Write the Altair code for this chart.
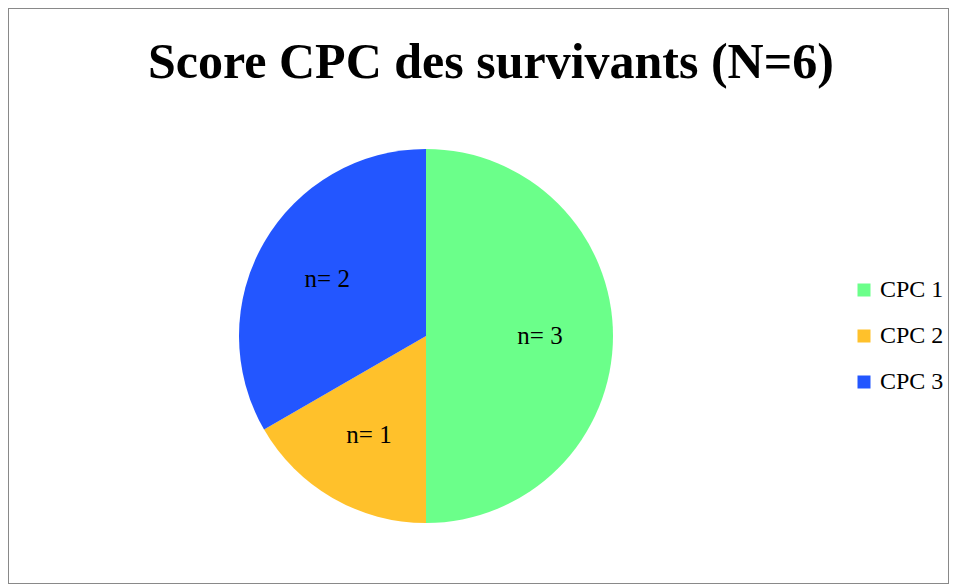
import altair as alt
import pandas as pd

categories = ["CPC 1", "CPC 2", "CPC 3"]
counts = [3, 1, 2]
labels = ["n= 3", "n= 1", "n= 2"]
colors = ["#6bff8a", "#ffc12b", "#2356ff"]

df = pd.DataFrame({"cat": categories, "n": counts, "label": labels})

base = alt.Chart(df).encode(
    theta=alt.Theta("n:Q", stack=True),
    x=alt.value(418),
    y=alt.value(328),
)

color = alt.Color(
    "cat:N",
    scale=alt.Scale(domain=categories, range=colors),
    sort=categories,
    legend=alt.Legend(
        title=None,
        orient="none",
        legendX=844,
        legendY=270,
        padding=0,
        symbolType="square",
        symbolSize=169,
        symbolStrokeWidth=0,
        labelFont="Liberation Serif",
        labelFontSize=24,
        labelColor="#000000",
        rowPadding=22,
        labelOffset=4,
    ),
)

arcs = base.mark_arc(outerRadius=187, stroke=None).encode(
    color=color,
    order=alt.Order("order:Q"),
).transform_calculate(order="indexof(['CPC 1','CPC 2','CPC 3'], datum.cat)")

text = base.mark_text(
    radius=114, font="Liberation Serif", fontSize=25, color="#000000"
).encode(
    text="label:N",
    order=alt.Order("order:Q"),
).transform_calculate(order="indexof(['CPC 1','CPC 2','CPC 3'], datum.cat)")

chart = (
    alt.layer(arcs, text)
    .properties(
        width=941,
        height=576,
        padding=0,
        title=alt.TitleParams(
            "Score CPC des survivants (N=6)",
            font="Liberation Serif",
            fontSize=50,
            fontWeight="bold",
            color="#000000",
            anchor="start",
            dx=140,
            offset=-80,
        ),
    )
    .configure_view(stroke="#898989", strokeWidth=2)
)

chart.save("out.html", embed_options={"renderer": "svg", "actions": False})
